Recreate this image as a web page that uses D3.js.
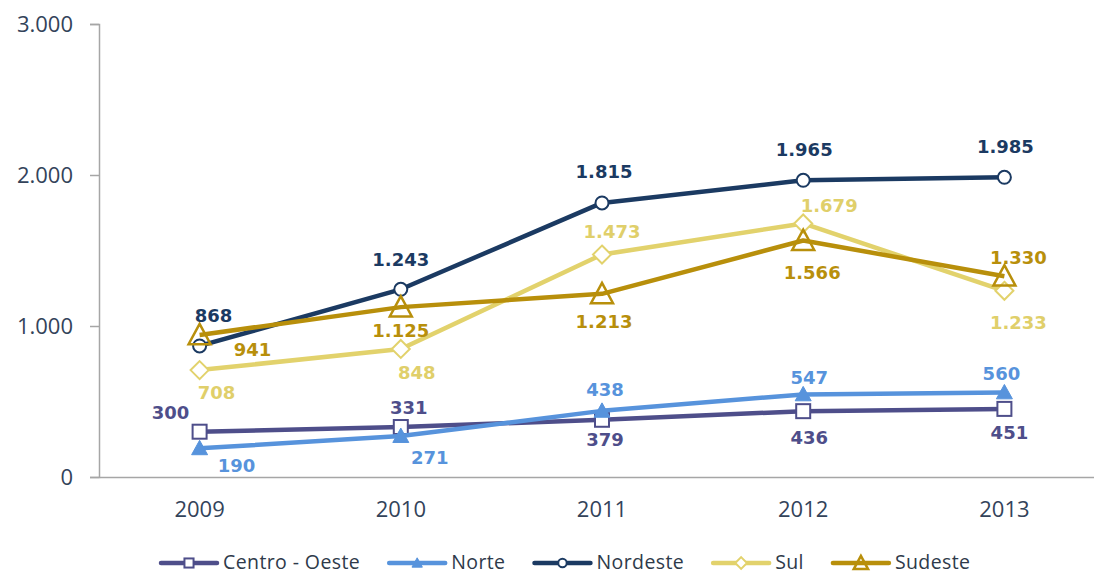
<html>
<head>
<meta charset="utf-8">
<title>Regiões</title>
<script src="https://cdn.jsdelivr.net/npm/d3@7"></script>
<style>
  body { margin: 0; background: #fff; }
  svg { display: block; }
</style>
</head>
<body>
<svg id="chart" width="1094" height="575"></svg>
<script>
// data
var years = ["2009", "2010", "2011", "2012", "2013"];
var seriesNames = ["Centro - Oeste", "Norte", "Nordeste", "Sul", "Sudeste"];
var centroOeste = [300, 331, 379, 436, 451];
var norte = [190, 271, 438, 547, 560];
var nordeste = [868, 1243, 1815, 1965, 1985];
var sul = [708, 848, 1473, 1679, 1233];
var sudeste = [941, 1125, 1213, 1566, 1330];
var yTicks = [0, 1000, 2000, 3000];

var seriesValues = [centroOeste, norte, nordeste, sul, sudeste];

// look
var colors = ["#4e4e8a", "#5793dc", "#1b3a62", "#e2d26c", "#b88f0b"];
var labelColors = ["#4e4e8a", "#5793dc", "#1b3a62", "#e0cf6a", "#b88f0b"];
var symbols = ["square", "tri-fill", "circle", "diamond", "triangle"];
// label offsets (dx, dy) from each point
var labelOffsets = [
  [[-29, -19], [8, -19], [3, 20], [6, 26], [5, 24]],
  [[37, 17], [29, 21], [3, -21], [6, -17], [-3, -19]],
  [[14, -30], [0, -30], [2, -31], [1, -31], [1, -31]],
  [[17, 22], [16, 24], [10, -23], [26, -18], [14, 32]],
  [[53, 15], [0, 23], [2, 28], [9, 32], [14, -19]]
];

var svg = d3.select("#chart");
var mLeft = 99, mRight = 1105, mTop = 24, mBottom = 477;

var x = d3.scaleBand().domain(years).range([mLeft, mRight]);
var y = d3.scaleLinear().domain([0, 3000]).range([mBottom, mTop]);
var cx = function (yr) { return x(yr) + x.bandwidth() / 2; };
var fmt = function (v) { return d3.format(",")(v).replace(/,/g, "."); };

// y axis
var yAxis = svg.append("g").attr("transform", "translate(" + mLeft + ",0)")
  .call(d3.axisLeft(y).tickValues(yTicks).tickSize(9).tickPadding(17).tickFormat(fmt));
yAxis.select(".domain").attr("stroke", "#a6a6a6").attr("stroke-width", 1.5);
yAxis.selectAll(".tick line").attr("stroke", "#a6a6a6").attr("stroke-width", 1.5);
yAxis.selectAll("text").attr("font-family", "Open Sans").attr("font-size", 22)
  .attr("fill", "#33435a");

// x axis
var xAxis = svg.append("g").attr("transform", "translate(0," + mBottom + ")")
  .call(d3.axisBottom(x).tickSize(0).tickPadding(24));
xAxis.select(".domain").attr("stroke", "#a6a6a6").attr("stroke-width", 1.5);
xAxis.selectAll("text").attr("font-family", "Open Sans").attr("font-size", 22)
  .attr("fill", "#33435a");

function drawMarker(g, sym, color, px, py, s) {
  s = s || 1;
  if (sym == "square") {
    g.append("rect").attr("x", px - 7 * s).attr("y", py - 7 * s)
      .attr("width", 14 * s).attr("height", 14 * s)
      .attr("fill", "#fff").attr("stroke", color).attr("stroke-width", 2);
  } else if (sym == "circle") {
    g.append("circle").attr("cx", px).attr("cy", py).attr("r", 6.5 * s)
      .attr("fill", "#fff").attr("stroke", color).attr("stroke-width", 2);
  } else if (sym == "diamond") {
    var d = 9 * s;
    g.append("path").attr("d", "M" + px + "," + (py - d) + "L" + (px + d) + "," + py +
      "L" + px + "," + (py + d) + "L" + (px - d) + "," + py + "Z")
      .attr("fill", "#fff").attr("stroke", color).attr("stroke-width", 2);
  } else if (sym == "triangle") {
    var h = 11 * s;
    g.append("path").attr("d", "M" + px + "," + (py - h) + "L" + (px + h) + "," + (py + h * 0.85) +
      "L" + (px - h) + "," + (py + h * 0.85) + "Z")
      .attr("fill", "none").attr("stroke", color).attr("stroke-width", 2.5);
  } else if (sym == "tri-fill") {
    var t = 8 * s;
    g.append("path").attr("d", "M" + px + "," + (py - t) + "L" + (px + t) + "," + (py + t * 0.8) +
      "L" + (px - t) + "," + (py + t * 0.8) + "Z")
      .attr("fill", color).attr("stroke", color).attr("stroke-width", 1);
  }
}

var line = d3.line().x(function (d) { return cx(d.year); }).y(function (d) { return y(d.v); });

seriesValues.forEach(function (vals, si) {
  var pts = vals.map(function (v, i) { return { year: years[i], v: v }; });
  var g = svg.append("g");
  g.append("path").datum(pts).attr("d", line)
    .attr("fill", "none").attr("stroke", colors[si]).attr("stroke-width", 4.5)
    .attr("stroke-linejoin", "round");
  pts.forEach(function (p) {
    drawMarker(g, symbols[si], colors[si], cx(p.year), y(p.v));
  });
});

// data labels
seriesValues.forEach(function (vals, si) {
  svg.append("g").selectAll("text").data(vals).enter().append("text")
    .attr("x", function (d, i) { return cx(years[i]) + labelOffsets[si][i][0]; })
    .attr("y", function (d, i) { return y(d) + labelOffsets[si][i][1]; })
    .attr("dy", "0.36em")
    .attr("text-anchor", "middle")
    .attr("font-family", "DejaVu Sans")
    .attr("font-weight", "bold")
    .attr("font-size", 18)
    .attr("fill", labelColors[si])
    .text(function (d) { return fmt(d); });
});

// legend
var legend = svg.append("g").attr("transform", "translate(161,563)");
var lx = 0;
seriesNames.forEach(function (name, si) {
  var it = legend.append("g").attr("transform", "translate(" + lx + ",0)");
  it.append("line").attr("x1", 0).attr("x2", 56).attr("y1", 0).attr("y2", 0)
    .attr("stroke", colors[si]).attr("stroke-width", 4.5).attr("stroke-linecap", "round");
  drawMarker(it, symbols[si], colors[si], 28, 0, 0.65);
  var t = it.append("text").attr("x", 62).attr("y", 0).attr("dy", "0.33em")
    .attr("font-family", "Open Sans").attr("font-size", 19.5).attr("letter-spacing", 0.4)
    .attr("fill", "#2e3a4a")
    .text(name);
  lx += 62 + t.node().getComputedTextLength() + 29;
});
</script>
</body>
</html>
